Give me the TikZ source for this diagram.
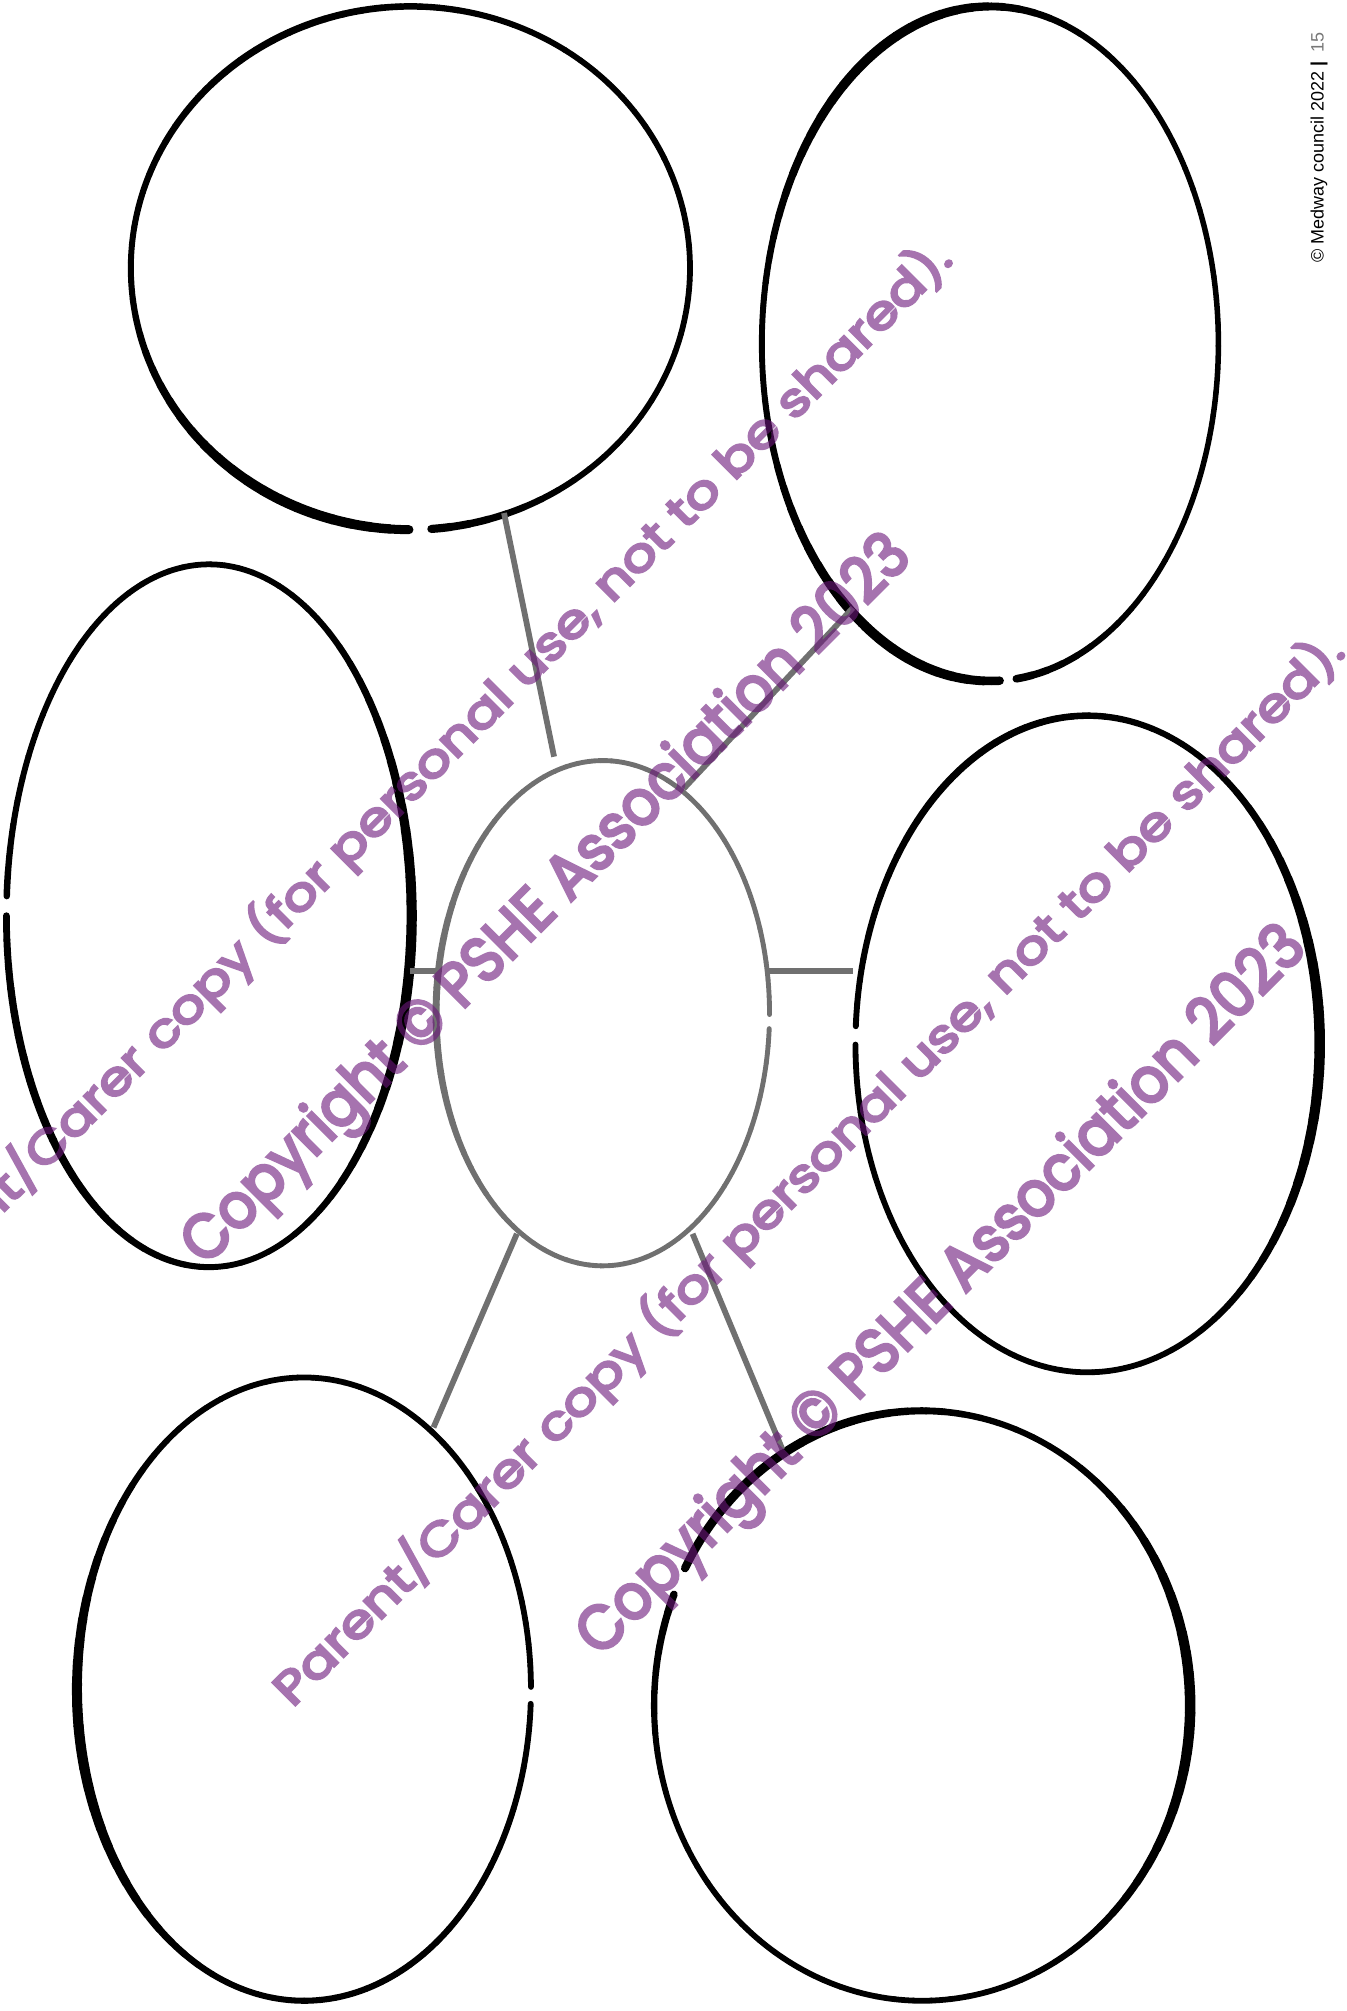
\documentclass[tikz,border=0pt]{standalone}
\usepackage{fontspec}
\setmainfont{Liberation Sans}
\newfontfamily\wmfont[FakeBold=5]{Poppins}
\usepackage{graphicx}
\definecolor{wmpurple}{rgb}{0.42,0.09,0.48}
\definecolor{linkgray}{RGB}{112,112,112}
\definecolor{pagegray}{RGB}{120,120,120}
% \ring{cx}{cy}{rx}{ry}{start}{end}{colour}; cy in image pixels (downwards)
% line width = \wbase + \ea*bump(\pa) + \eb*bump(\pb)
\newcommand{\ring}[7]{%
  \pgfmathsetmacro{\rstep}{(#6-#5)/90}%
  \foreach \i in {0,...,89}{%
    \pgfmathsetmacro{\ta}{#5+\i*\rstep}%
    \pgfmathsetmacro{\tb}{\ta+\rstep}%
    \pgfmathsetmacro{\tm}{\ta+0.5*\rstep}%
    \pgfmathsetmacro{\ca}{max(0,cos(\tm-\pa))}%
    \pgfmathsetmacro{\cb}{max(0,cos(\tm-\pb))}%
    \pgfmathsetmacro{\lw}{\wbase+\ea*\ca^4+\eb*\cb^4}%
    \draw[draw=#7,line width=\lw pt,line cap=round] ({#1+#3*cos(\ta)},{-#2+#4*sin(\ta)}) arc[start angle=\ta,end angle=\tb,x radius=#3pt,y radius=#4pt];
  }}
\begin{document}
\begin{tikzpicture}[x=1pt,y=1pt,
  link/.style={draw=linkgray,line width=4.5pt},
  wm/.style={text=wmpurple,font=\wmfont,inner sep=0pt,anchor=base west,rotate=45}]
\useasboundingbox (0,0) rectangle (1050,-1568);
\fill[white] (0,0) rectangle (1050,-1568);

% top-left oval
\def\wbase{4.5}\def\pa{245}\def\ea{3.5}\def\pb{120}\def\eb{1.0}
\ring{320}{209}{218}{204}{274.3}{629.7}{black}
% top-right oval
\def\wbase{4.3}\def\pa{245}\def\ea{3.5}\def\pb{118}\def\eb{3.2}
\ring{772}{268}{178}{263}{276.6}{632.4}{black}
% left oval
\def\wbase{4.5}\def\pa{-5}\def\ea{3.5}\def\pb{215}\def\eb{1.6}
\ring{163}{714}{158}{274}{180.0}{536.8}{black}
% centre oval
\def\wbase{3.8}\def\pa{180}\def\ea{1.6}\def\pb{0}\def\eb{0}
\ring{470}{790}{130}{197}{359.7}{716.5}{linkgray}
% right oval
\def\wbase{4.5}\def\pa{0}\def\ea{3.7}\def\pb{120}\def\eb{1.0}
\ring{848}{814}{181}{256}{180.1}{536.9}{black}
% bottom-left oval
\def\wbase{4.5}\def\pa{190}\def\ea{3.5}\def\pb{300}\def\eb{0.4}
\ring{237}{1317}{177}{243}{360.4}{717.3}{black}
% bottom-right oval
\def\wbase{4.5}\def\pa{0}\def\ea{3.7}\def\pb{128}\def\eb{2.6}
\ring{719}{1330}{209}{230}{157.8}{512.2}{black}

% connector end points
\coordinate (tA) at (393,-400);  \coordinate (tB) at (432,-590);
\coordinate (uA) at (533,-615);  \coordinate (uB) at (665,-474);
\coordinate (lA) at (320,-757);  \coordinate (lB) at (340,-757);
\coordinate (rA) at (598,-757);  \coordinate (rB) at (665,-757);
\coordinate (blA) at (403,-962); \coordinate (blB) at (338,-1113);
\coordinate (brA) at (540,-962); \coordinate (brB) at (610,-1130);
\draw[link] (tA) -- (tB);
\draw[link] (uA) -- (uB);
\draw[link] (lA) -- (lB);
\draw[link] (rA) -- (rB);
\draw[link] (blA) -- (blB);
\draw[link] (brA) -- (brB);

% watermark (semi-transparent as a group)
\begin{scope}[transparency group,opacity=0.6]
\node[wm] (wmA) at (-78,-1026) {\resizebox{1162pt}{34pt}{Parent/Carer copy (for personal use, not to be shared).}};
\node[wm] (wmB) at (160,-988) {\resizebox{781pt}{37pt}{Copyright © PSHE Association 2023}};
\node[wm] (wmC) at (228,-1332) {\resizebox{1162pt}{34pt}{Parent/Carer copy (for personal use, not to be shared).}};
\node[wm] (wmD) at (468,-1293) {\resizebox{781pt}{37pt}{Copyright © PSHE Association 2023}};
\end{scope}

% page footer
\node[anchor=base west,rotate=90,inner sep=0pt,font=\fontsize{14}{14}\selectfont] (mw) at (1032,-205)
  {© Medway council 2022\hspace{4pt}\textbf{|}\hspace{7pt}\textcolor{pagegray}{15}};
\end{tikzpicture}
\end{document}
